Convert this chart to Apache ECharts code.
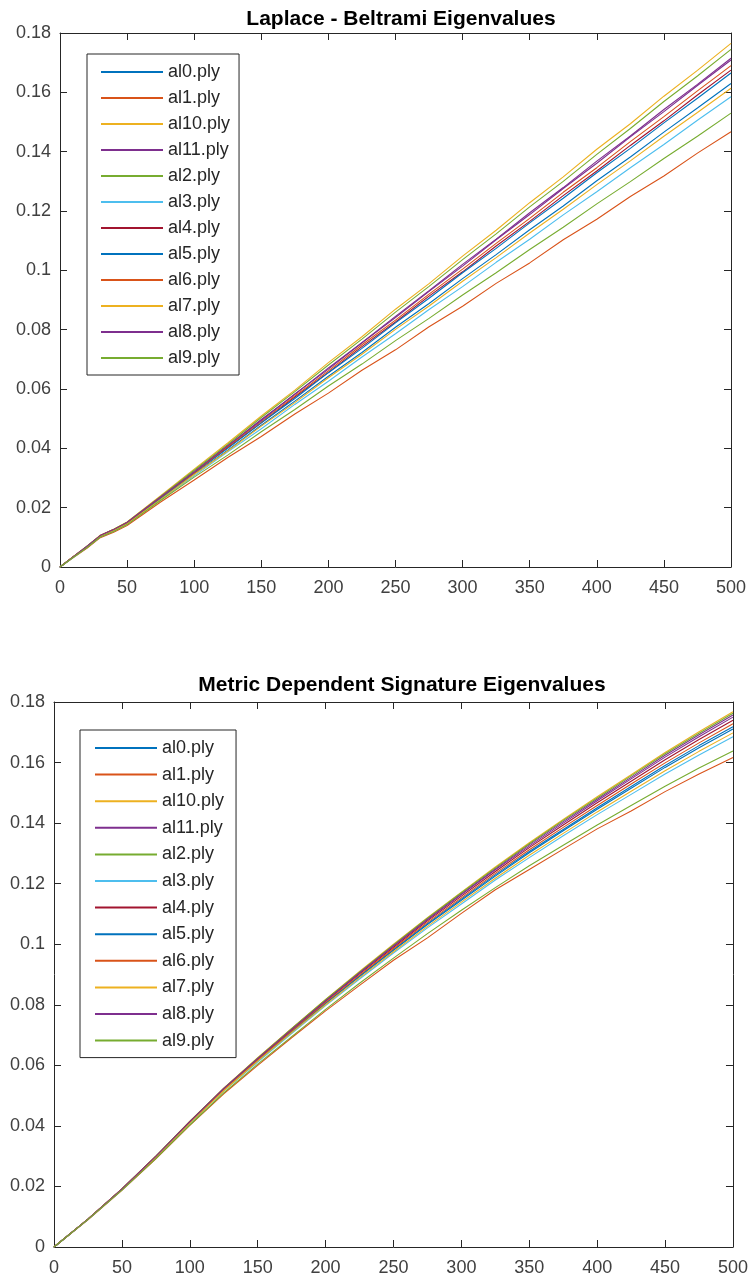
<!DOCTYPE html>
<html>
<head>
<meta charset="utf-8">
<script src="https://cdn.jsdelivr.net/npm/echarts@6/dist/echarts.min.js"></script>
<style>
html,body{margin:0;padding:0;background:#fff;}
#chart{width:751px;height:1281px;}
</style>
</head>
<body>
<div id="chart"></div>
<script>
// ---------- data ----------
const seriesNames = ['al0.ply','al1.ply','al10.ply','al11.ply','al2.ply','al3.ply','al4.ply','al5.ply','al6.ply','al7.ply','al8.ply','al9.ply'];
const palette = ['#0072BD','#D95319','#EDB120','#7E2F8E','#77AC30','#4DBEEE','#A2142F','#0072BD','#D95319','#EDB120','#7E2F8E','#77AC30'];
const xTicks = [0,50,100,150,200,250,300,350,400,450,500];
const yTicks = [0,0.02,0.04,0.06,0.08,0.1,0.12,0.14,0.16,0.18];

// Top plot: Laplace - Beltrami eigenvalues
const xsTop = [0,10,20,30,40,50,75,100,125,150,175,200,225,250,275,300,325,350,375,400,425,450,475,500];
const lbAl0  = [0,0.0034,0.0067,0.0104,0.0124,0.0147,0.0230,0.0314,0.0394,0.0478,0.0559,0.0643,0.0723,0.0808,0.0888,0.0972,0.1053,0.1137,0.1217,0.1302,0.1382,0.1466,0.1547,0.1630];
const lbAl1  = [0,0.0032,0.0063,0.0099,0.0117,0.0140,0.0219,0.0293,0.0369,0.0440,0.0516,0.0586,0.0663,0.0732,0.0810,0.0879,0.0956,0.1025,0.1103,0.1172,0.1249,0.1318,0.1395,0.1467];
const lbAl10 = [0,0.0036,0.0070,0.0107,0.0127,0.0152,0.0240,0.0330,0.0418,0.0509,0.0596,0.0689,0.0776,0.0869,0.0955,0.1048,0.1135,0.1228,0.1315,0.1408,0.1494,0.1587,0.1674,0.1765];
const lbAl11 = [0,0.0035,0.0069,0.0106,0.0126,0.0150,0.0236,0.0323,0.0408,0.0497,0.0582,0.0671,0.0756,0.0845,0.0931,0.1020,0.1105,0.1194,0.1279,0.1368,0.1453,0.1542,0.1627,0.1715];
const lbAl2  = [0,0.0035,0.0069,0.0106,0.0127,0.0151,0.0238,0.0326,0.0413,0.0504,0.0591,0.0681,0.0768,0.0859,0.0946,0.1036,0.1123,0.1214,0.1300,0.1391,0.1478,0.1569,0.1655,0.1745];
const lbAl3  = [0,0.0033,0.0066,0.0102,0.0121,0.0144,0.0227,0.0307,0.0388,0.0466,0.0548,0.0626,0.0708,0.0786,0.0868,0.0945,0.1027,0.1105,0.1187,0.1265,0.1346,0.1424,0.1506,0.1585];
const lbAl4  = [0,0.0035,0.0068,0.0105,0.0125,0.0149,0.0234,0.0317,0.0403,0.0486,0.0573,0.0656,0.0743,0.0826,0.0913,0.0995,0.1082,0.1165,0.1252,0.1335,0.1421,0.1504,0.1591,0.1675];
const lbAl5  = [0,0.0034,0.0068,0.0104,0.0125,0.0148,0.0231,0.0318,0.0400,0.0486,0.0568,0.0655,0.0737,0.0823,0.0906,0.0992,0.1074,0.1160,0.1243,0.1329,0.1411,0.1497,0.1580,0.1665];
const lbAl6  = [0,0.0035,0.0068,0.0105,0.0126,0.0149,0.0235,0.0318,0.0406,0.0490,0.0577,0.0661,0.0749,0.0832,0.0920,0.1004,0.1091,0.1175,0.1263,0.1346,0.1434,0.1518,0.1605,0.1690];
const lbAl7  = [0,0.0034,0.0067,0.0104,0.0123,0.0146,0.0228,0.0312,0.0391,0.0475,0.0554,0.0638,0.0717,0.0801,0.0880,0.0963,0.1043,0.1126,0.1206,0.1289,0.1369,0.1452,0.1532,0.1614];
const lbAl8  = [0,0.0035,0.0069,0.0106,0.0126,0.0150,0.0236,0.0320,0.0409,0.0494,0.0583,0.0667,0.0756,0.0841,0.0929,0.1014,0.1103,0.1188,0.1276,0.1361,0.1450,0.1535,0.1623,0.1709];
const lbAl9  = [0,0.0033,0.0065,0.0101,0.0120,0.0143,0.0224,0.0303,0.0377,0.0456,0.0531,0.0610,0.0684,0.0763,0.0838,0.0917,0.0992,0.1070,0.1145,0.1224,0.1299,0.1377,0.1452,0.1530];

// Bottom plot: Metric dependent signature eigenvalues
const xsBot = [0,25,50,75,100,125,150,175,200,225,250,275,300,325,350,375,400,425,450,475,500];
const mdAl0  = [0,0.0091,0.0190,0.0297,0.0411,0.0519,0.0617,0.0712,0.0805,0.0895,0.0982,0.1068,0.1149,0.1229,0.1306,0.1379,0.1451,0.1521,0.1590,0.1656,0.1718];
const mdAl1  = [0,0.0090,0.0187,0.0291,0.0402,0.0506,0.0600,0.0691,0.0780,0.0864,0.0947,0.1021,0.1102,0.1180,0.1247,0.1314,0.1381,0.1440,0.1504,0.1562,0.1617];
const mdAl10 = [0,0.0092,0.0192,0.0300,0.0415,0.0525,0.0625,0.0722,0.0818,0.0910,0.1000,0.1088,0.1172,0.1255,0.1335,0.1412,0.1487,0.1560,0.1633,0.1702,0.1768];
const mdAl11 = [0,0.0092,0.0192,0.0299,0.0414,0.0524,0.0623,0.0720,0.0815,0.0907,0.0996,0.1084,0.1167,0.1249,0.1329,0.1405,0.1479,0.1551,0.1624,0.1692,0.1757];
const mdAl2  = [0,0.0092,0.0192,0.0300,0.0415,0.0524,0.0624,0.0721,0.0817,0.0908,0.0998,0.1086,0.1170,0.1252,0.1332,0.1409,0.1483,0.1556,0.1629,0.1697,0.1763];
const mdAl3  = [0,0.0091,0.0189,0.0295,0.0408,0.0515,0.0611,0.0705,0.0797,0.0885,0.0971,0.1054,0.1133,0.1212,0.1286,0.1358,0.1428,0.1495,0.1562,0.1625,0.1685];
const mdAl4  = [0,0.0092,0.0191,0.0298,0.0413,0.0521,0.0620,0.0716,0.0811,0.0902,0.0990,0.1077,0.1159,0.1240,0.1319,0.1394,0.1467,0.1538,0.1609,0.1676,0.1740];
const mdAl5  = [0,0.0091,0.0190,0.0297,0.0410,0.0518,0.0616,0.0710,0.0804,0.0893,0.0980,0.1065,0.1145,0.1225,0.1302,0.1375,0.1446,0.1515,0.1584,0.1649,0.1711];
const mdAl6  = [0,0.0092,0.0191,0.0298,0.0411,0.0520,0.0618,0.0714,0.0808,0.0898,0.0986,0.1072,0.1153,0.1234,0.1312,0.1386,0.1458,0.1529,0.1599,0.1665,0.1728];
const mdAl7  = [0,0.0091,0.0190,0.0296,0.0409,0.0516,0.0614,0.0708,0.0800,0.0889,0.0975,0.1059,0.1139,0.1218,0.1294,0.1366,0.1437,0.1505,0.1573,0.1637,0.1698];
const mdAl8  = [0,0.0092,0.0191,0.0299,0.0413,0.0523,0.0622,0.0718,0.0813,0.0905,0.0994,0.1081,0.1164,0.1246,0.1324,0.1400,0.1474,0.1546,0.1618,0.1685,0.1750];
const mdAl9  = [0,0.0091,0.0188,0.0292,0.0403,0.0509,0.0604,0.0695,0.0785,0.0871,0.0954,0.1035,0.1112,0.1187,0.1259,0.1327,0.1394,0.1458,0.1522,0.1582,0.1638];

const topValues = [lbAl0,lbAl1,lbAl10,lbAl11,lbAl2,lbAl3,lbAl4,lbAl5,lbAl6,lbAl7,lbAl8,lbAl9];
const botValues = [mdAl0,mdAl1,mdAl10,mdAl11,mdAl2,mdAl3,mdAl4,mdAl5,mdAl6,mdAl7,mdAl8,mdAl9];

// ---------- chart ----------
const FONT = '"Liberation Sans", Arial, Helvetica, sans-serif';
const AX = '#262626';
const LBL = '#404040';

function xAxisPair(grid) {
  const base = {
    type: 'value', gridIndex: grid, min: 0, max: 500, interval: 50,
    splitLine: {show: false},
    axisLine: {show: true, onZero: false, lineStyle: {color: AX, width: 1}},
    axisTick: {show: true, inside: true, length: 7, lineStyle: {color: AX, width: 1}}
  };
  return [
    Object.assign({}, base, {position: 'bottom',
      axisLabel: {show: true, fontSize: 18, fontFamily: FONT, color: LBL, margin: 12,
        formatter: v => xTicks.includes(v) ? String(v) : ''}}),
    Object.assign({}, base, {position: 'top', axisLabel: {show: false}})
  ];
}
function yAxisPair(grid) {
  const base = {
    type: 'value', gridIndex: grid, min: 0, max: 0.18, interval: 0.02,
    splitLine: {show: false},
    axisLine: {show: true, onZero: false, lineStyle: {color: AX, width: 1}},
    axisTick: {show: true, inside: true, length: 7, lineStyle: {color: AX, width: 1}}
  };
  return [
    Object.assign({}, base, {position: 'left',
      axisLabel: {show: true, fontSize: 18, fontFamily: FONT, color: LBL, margin: 9,
        formatter: v => {
          const r = Math.round(v * 100) / 100;
          const t = yTicks.find(k => Math.abs(k - r) < 1e-9);
          return t === undefined ? '' : String(t);
        }}}),
    Object.assign({}, base, {position: 'right', axisLabel: {show: false}})
  ];
}

const series = [];
seriesNames.forEach((n, i) => {
  series.push({
    name: n, type: 'line', xAxisIndex: 0, yAxisIndex: 0,
    data: xsTop.map((x, k) => [x, topValues[i][k]]),
    symbol: 'none', showSymbol: false, smooth: false,
    lineStyle: {color: palette[i], width: 1.1}, itemStyle: {color: palette[i]},
    emphasis: {disabled: true}, animation: false
  });
});
seriesNames.forEach((n, i) => {
  series.push({
    name: n, type: 'line', xAxisIndex: 2, yAxisIndex: 2,
    data: xsBot.map((x, k) => [x, botValues[i][k]]),
    symbol: 'none', showSymbol: false, smooth: false,
    lineStyle: {color: palette[i], width: 1.1}, itemStyle: {color: palette[i]},
    emphasis: {disabled: true}, animation: false
  });
});

function legendCfg(left, top, padding, gap) {
  return {
    orient: 'vertical', left: left, top: top, padding: padding, itemGap: gap,
    itemWidth: 62, itemHeight: 2, icon: 'rect',
    borderColor: AX, borderWidth: 1, backgroundColor: '#ffffff',
    textStyle: {fontSize: 18, lineHeight: 18, fontFamily: FONT, color: AX},
    selectedMode: false,
    data: seriesNames.map(n => ({name: n, icon: 'rect'}))
  };
}

const option = {
  animation: false,
  backgroundColor: '#ffffff',
  title: [
    {text: 'Laplace - Beltrami Eigenvalues', left: 396, textAlign: 'center', top: 4,
      textStyle: {fontSize: 21, fontWeight: 'bold', fontFamily: FONT, color: '#000'}},
    {text: 'Metric Dependent Signature Eigenvalues', left: 397, textAlign: 'center', top: 670,
      textStyle: {fontSize: 21, fontWeight: 'bold', fontFamily: FONT, color: '#000'}}
  ],
  grid: [
    {left: 60, top: 33, width: 671, height: 534, containLabel: false},
    {left: 54, top: 702, width: 685, height: 545, containLabel: false}
  ],
  xAxis: [...xAxisPair(0), ...xAxisPair(1)],
  yAxis: [...yAxisPair(0), ...yAxisPair(1)],
  legend: [
    legendCfg(87, 54, [9, 9, 8, 14], 8),
    legendCfg(80, 730, [9, 12, 8, 15], 8.6)
  ],
  series: series
};

const chart = echarts.init(document.getElementById('chart'), null, {renderer: 'canvas'});
chart.setOption(option);
</script>
</body>
</html>
